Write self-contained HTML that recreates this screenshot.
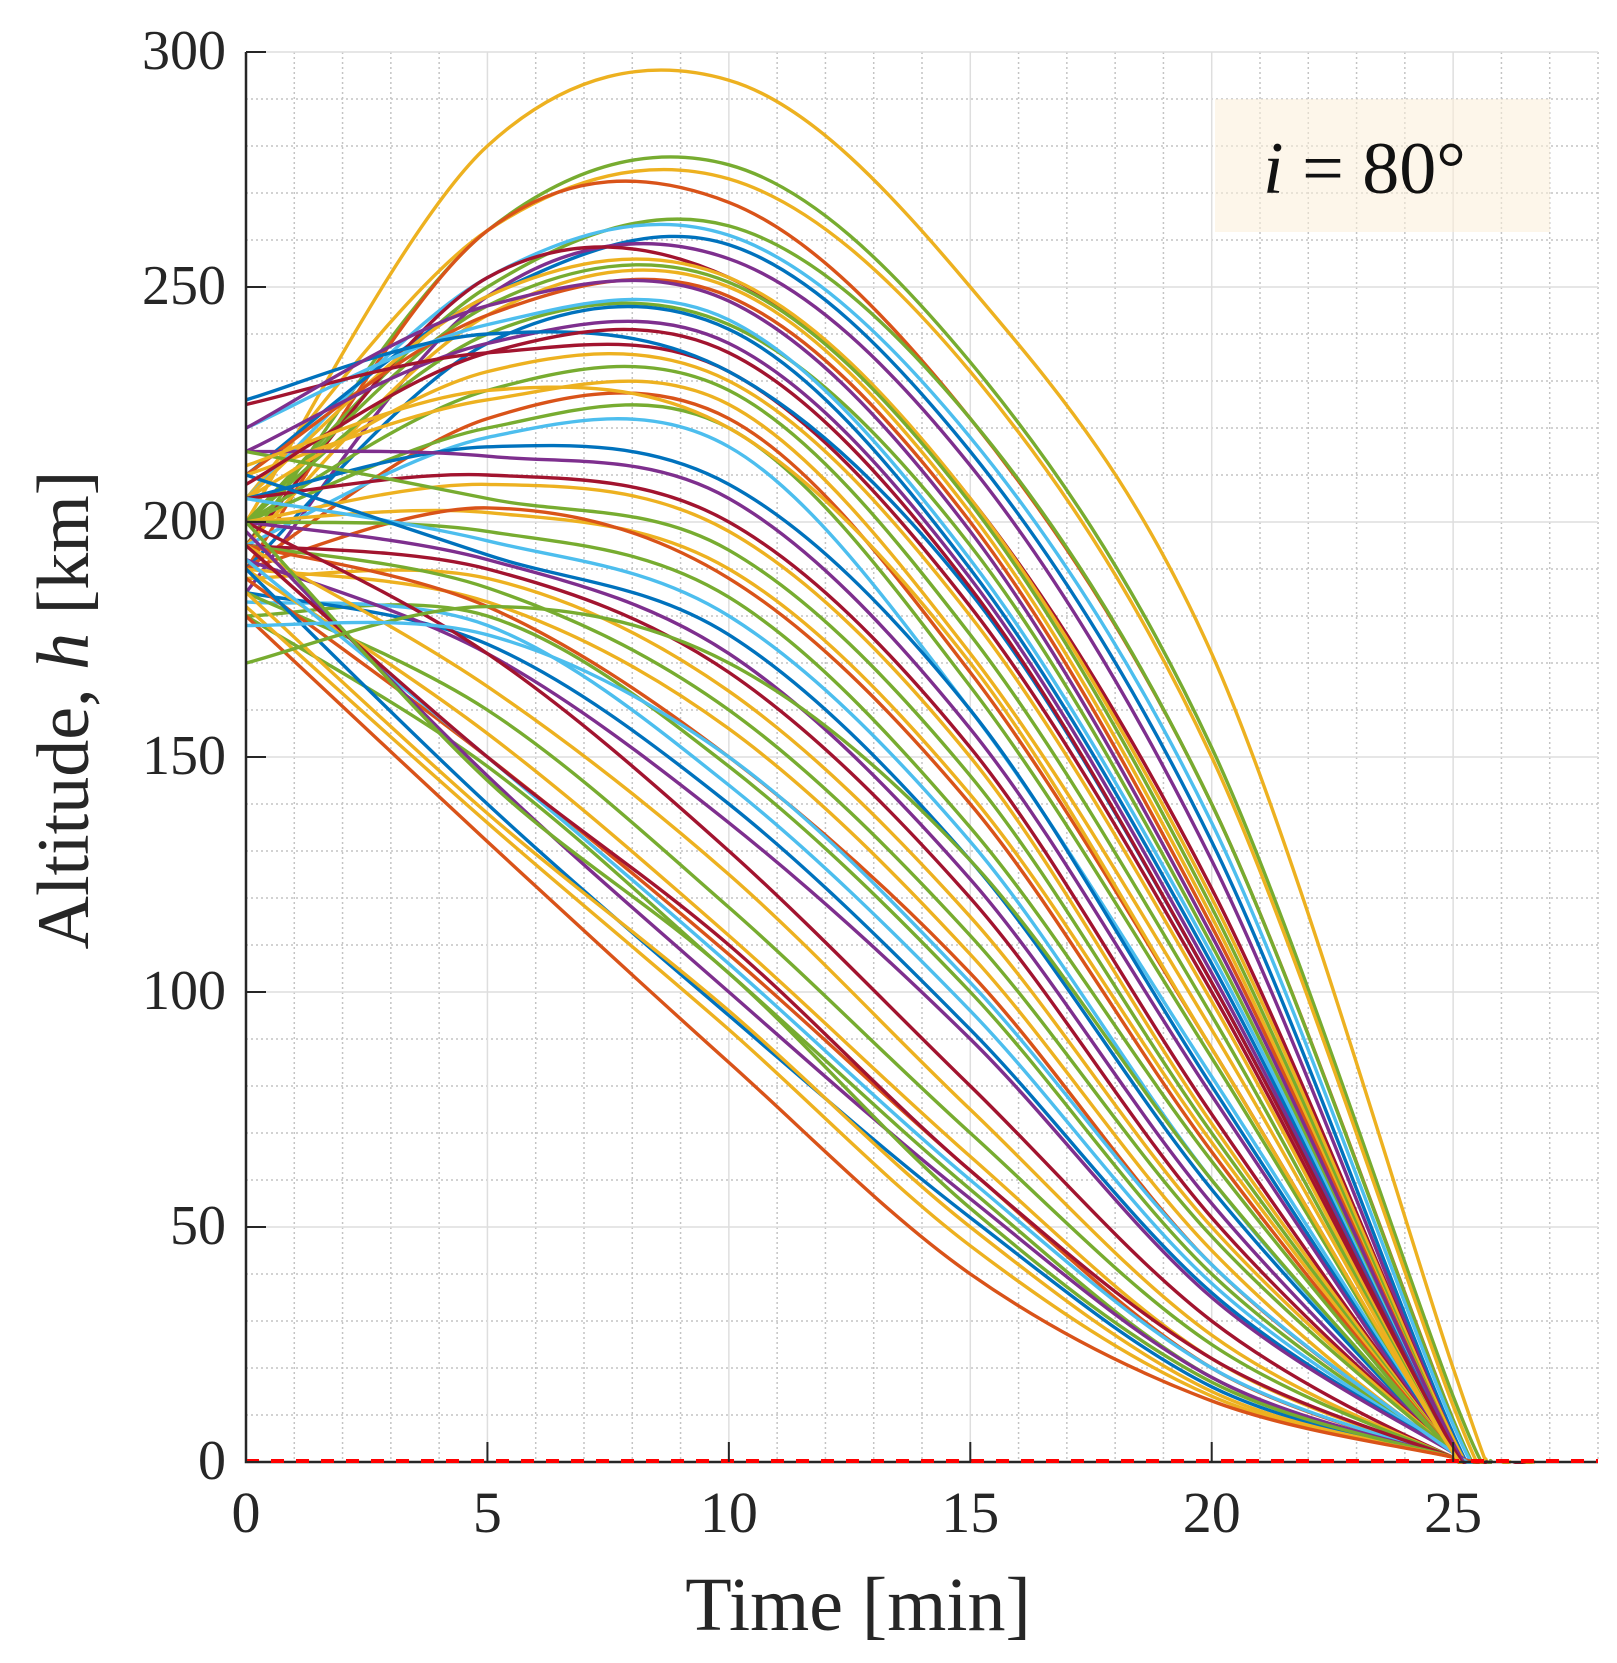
<!DOCTYPE html>
<html><head><meta charset="utf-8"><style>
html,body{margin:0;padding:0;background:#fff;}
svg{display:block;font-family:"Liberation Serif",serif;}
</style></head><body>
<svg id="chart" width="1617" height="1663" viewBox="0 0 1617 1663">
<g id="grid"></g>
<rect x="1215" y="99" width="335" height="133" fill="#fcefd9" fill-opacity="0.55"/>
<g id="lines" clip-path="url(#clip)"></g>
<defs><clipPath id="clip"><rect x="246" y="40" width="1352" height="1424"/></clipPath></defs>
<g id="axes"></g>
<text x="1263" y="193" font-size="74" fill="#111"><tspan font-style="italic">i</tspan> = 80°</text>
<text x="858" y="1630" font-size="76" text-anchor="middle" fill="#262626">Time [min]</text>
<text transform="translate(88,710) rotate(-90)" font-size="74" text-anchor="middle" fill="#262626">Altitude, <tspan font-style="italic">h</tspan> [km]</text>
</svg>
<script>
const xTicks=[0,5,10,15,20,25];
const yTicks=[0,50,100,150,200,250,300];
const sampleTimes=[0,5,10,15,20,25];
const seriesValues=[
[200,280,294,250,172,20],[195,262,276,234,152,14],[205,262,273,232,150,12],[190,262,268,222,140,9],
[200,250,263,222,140,9],[205,252,261,218,136,8],[210,248,259,215,132,6],[185,248,256,212,128,5],
[195,252,252,205,122,5],[205,248,252,205,120,5],[200,246,251,204,118,4],[195,244,250,202,116,4],
[210,244,248,200,114,4],[200,240,242,195,110,3],[220,242,243,192,108,3],[190,238,241,190,106,3],
[215,238,238,188,104,3],[225,236,232,182,100,2],[205,232,230,180,98,2],[200,228,228,176,95,2],
[210,226,225,172,92,2],[190,222,222,168,88,2],[200,220,220,165,86,2],[195,218,216,160,82,2],
[205,216,208,160,80,2],[215,214,205,156,78,2],[205,210,200,152,74,2],[200,208,198,150,72,2],
[215,205,194,146,70,2],[200,202,190,142,68,2],[190,203,188,140,66,2],[200,198,184,135,64,2],
[205,196,180,132,60,2],[210,193,176,128,58,2],[200,192,172,124,55,2],[195,190,168,120,52,2],
[188,188,164,116,50,2],[195,186,160,112,48,2],[190,183,156,108,45,2],[195,182,150,104,42,2],
[180,180,148,100,40,2],[183,178,144,96,38,2],[185,174,140,92,36,2],[192,172,136,90,35,2],
[200,172,130,80,30,1],[195,165,125,75,27,1],[185,160,118,70,25,1],[190,155,112,65,22,1],
[188,150,108,62,20,1],[180,148,104,58,18,1],[192,150,106,60,20,1],[190,140,95,52,16,1],
[198,146,100,56,18,1],[195,150,110,62,22,1],[185,138,96,50,15,1],[200,145,104,54,17,1],
[182,136,92,46,14,1],[180,132,85,40,13,1],[170,182,170,128,60,2],[178,176,150,102,42,2],
[226,240,232,185,102,3],[220,246,247,198,112,4],[208,236,236,186,102,3],[212,228,220,170,88,2]
];
const endTimes=[25.7,25.8,25.7,25.6,25.7,25.8,25.7,25.6,25.7,25.7,25.6,25.8,25.7,25.6,25.7,25.7,25.6,25.7,25.8,25.7,25.6,25.7,25.7,25.6,25.7,25.8,25.7,25.6,25.7,25.7,25.6,25.7,25.7,25.6,25.8,25.7,25.6,25.7,26.7,25.6,25.7,25.7,25.6,25.7,26.5,26.2,25.8,25.7,25.6,25.7,25.7,25.6,25.7,25.6,25.7,25.6,25.7,25.6,25.7,25.7,25.6,25.7,25.7,25.6];
const colors=["#EDB120","#77AC30","#EDB120","#D95319","#77AC30","#4DBEEE","#0072BD","#7E2F8E","#A2142F"];
const X0=246,X1=1598,Y0=1462,YT=52;
const xs=t=>X0+(t/28)*(X1-X0);
const ys=h=>Y0-(h/300)*(Y0-YT);
const NS="http://www.w3.org/2000/svg";
function mk(tag,attrs,parent){const e=document.createElementNS(NS,tag);for(const k in attrs)e.setAttribute(k,attrs[k]);parent.appendChild(e);return e;}
const grid=document.getElementById('grid'),axes=document.getElementById('axes'),lines=document.getElementById('lines');
for(let t=1;t<=28;t++){if(t%5===0)continue;
 const l=mk('line',{x1:xs(t),x2:xs(t),y1:YT,y2:Y0,stroke:'#c4c4c4','stroke-width':1.5,'stroke-dasharray':'2,3'},grid);
 
 }
for(let h=10;h<300;h+=10){if(h%50===0)continue;
 const l=mk('line',{x1:X0,x2:X1,y1:ys(h),y2:ys(h),stroke:'#c4c4c4','stroke-width':1.5,'stroke-dasharray':'2,3'},grid);
 
 }
xTicks.forEach(t=>{const l=mk('line',{x1:xs(t),x2:xs(t),y1:YT,y2:Y0,stroke:'#dedede','stroke-width':1.5},grid);
 
 });
yTicks.forEach(h=>{const l=mk('line',{x1:X0,x2:X1,y1:ys(h),y2:ys(h),stroke:'#dedede','stroke-width':1.5},grid);
 
 });
function pathFor(pts){let d='M'+pts[0][0].toFixed(1)+','+pts[0][1].toFixed(1);
 for(let i=0;i<pts.length-1;i++){const p0=pts[Math.max(0,i-1)],p1=pts[i],p2=pts[i+1],p3=pts[Math.min(pts.length-1,i+2)];
  const c1=[p1[0]+(p2[0]-p0[0])/6,p1[1]+(p2[1]-p0[1])/6],c2=[p2[0]-(p3[0]-p1[0])/6,p2[1]-(p3[1]-p1[1])/6];
  d+=' C'+c1[0].toFixed(1)+','+c1[1].toFixed(1)+' '+c2[0].toFixed(1)+','+c2[1].toFixed(1)+' '+p2[0].toFixed(1)+','+p2[1].toFixed(1);}
 return d;}
seriesValues.forEach((vals,i)=>{
 const pts=sampleTimes.map((t,j)=>[xs(t),ys(vals[j])]);
 pts.push([xs(endTimes[i]),ys(0)]);
 const p=mk('path',{d:pathFor(pts),fill:'none',stroke:colors[i%colors.length],'stroke-width':3.4},lines);
 
 });
const ax=mk('path',{d:`M${X0},${YT} V${Y0} H${X1}`,fill:'none',stroke:'#262626','stroke-width':2.5},axes);


const zl=mk('line',{x1:X0,x2:X1,y1:Y0-1,y2:Y0-1,stroke:'#ff0000','stroke-width':4,'stroke-dasharray':'13,12'},axes);


xTicks.forEach(t=>{
 const tk=mk('line',{x1:xs(t),x2:xs(t),y1:Y0,y2:Y0-20,stroke:'#262626','stroke-width':2},axes);
 
 
 const tx=mk('text',{x:xs(t),y:1532,'font-size':58,'text-anchor':'middle',fill:'#262626'},axes);
 tx.textContent=t;
 
 });
yTicks.forEach(h=>{
 const tk=mk('line',{x1:X0,x2:X0+20,y1:ys(h),y2:ys(h),stroke:'#262626','stroke-width':2},axes);
 
 
 const tx=mk('text',{x:226,y:ys(h)+17,'font-size':56,'text-anchor':'end',fill:'#262626'},axes);
 tx.textContent=h;
 
 });
</script>
</body></html>
